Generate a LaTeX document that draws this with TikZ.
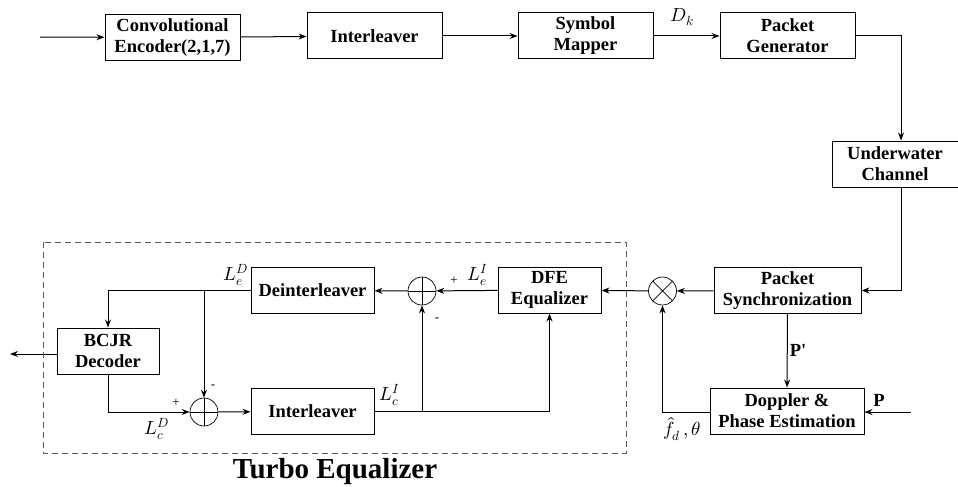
\documentclass[tikz,border=0pt]{standalone}
\usepackage{fontspec}
\usepackage{unicode-math}
\setmainfont{Liberation Serif}
\setmathfont{Latin Modern Math}
\usetikzlibrary{arrows.meta}
\tikzset{
  blk/.style={draw,align=center,inner sep=2pt,minimum height=46pt,font=\fontsize{18.5}{21}\selectfont\bfseries},
  adder/.style={draw,circle,line width=0.7pt,minimum size=28pt,inner sep=0pt,
    path picture={\draw[line width=0.7pt] (path picture bounding box.north) -- (path picture bounding box.south)
      (path picture bounding box.west) -- (path picture bounding box.east);}},
  mixer/.style={draw,circle,line width=0.7pt,minimum size=28pt,inner sep=0pt,
    path picture={\draw[line width=0.7pt] (path picture bounding box.north west) -- (path picture bounding box.south east)
      (path picture bounding box.north east) -- (path picture bounding box.south west);}},
  lbl/.style={font=\fontsize{19}{22}\selectfont},
  sgn/.style={font=\fontsize{13}{15}\selectfont}
}
\begin{document}
\begin{tikzpicture}[>={Stealth[length=8pt,width=6pt]},x=1pt,y=-1pt,line width=1pt]
    \useasboundingbox (0,0) rectangle (958,487);
    % transmitter
    \node[blk,minimum width=135pt] (enc) at (172.5,37.5) {Convolutional\\Encoder(2,1,7)};
    \node[blk,minimum width=135pt] (intl) at (374.5,36) {Interleaver};
    \node[blk,minimum width=135pt] (map) at (585.5,36) {Symbol\\Mapper};
    \node[blk,minimum width=135pt] (pgen) at (787.5,36) {Packet\\Generator};
    \node[blk,minimum width=126pt] (chan) at (895,164) {Underwater\\Channel};
    \coordinate (src) at (40,37);
    \draw[->] (src) -- (enc);
    \draw[->] (enc) -- (intl);
    \draw[->] (intl) -- (map);
    \draw[->] (map) -- (pgen);
    \node[lbl] (dk) at (682,17) {$D_k$};
    \draw[->] (pgen.east) -| ([xshift=6pt]chan.north);
    % receiver
    \node[blk,minimum width=147pt] (psync) at (787.5,290.5) {Packet\\Synchronization};
    \node[blk,minimum width=154pt] (dopp) at (787,411) {Doppler \&\\Phase Estimation};
    \node[mixer] (mult) at (662.5,291) {};
    \draw[->] ([xshift=6pt]chan.south) |- (psync.east);
    \draw[->] (psync) -- (mult);
    \draw[->] (psync) -- (dopp);
    \node[font=\fontsize{18.5}{21}\selectfont\bfseries] (pp) at (798,350) {P\textquotesingle};
    \coordinate (pin) at (911,412);
    \draw[->] (pin) -- (dopp.east |- pin);
    \node[font=\fontsize{18.5}{21}\selectfont\bfseries] (plbl) at (879,400) {P};
    \draw[->] (dopp.west |- pin) -| (mult.south);
    \node[lbl] (fd) at (682,429) {$\widehat{f}_d\,,\theta$};
    % turbo equalizer
    \node[blk,minimum width=103pt] (dfe) at (549.5,290) {DFE\\Equalizer};
    \node[adder] (sum1) at (422,291) {};
    \node[blk,minimum width=123pt] (deint) at (312.5,290.5) {Deinterleaver};
    \node[blk,minimum width=102pt] (bcjr) at (108,351) {BCJR\\Decoder};
    \node[adder] (sum2) at (204,412) {};
    \node[blk,minimum width=123pt] (intl2) at (312.5,411.5) {Interleaver};
    \draw[->] (mult) -- (dfe);
    \draw[->] (dfe) -- (sum1);
    \draw[->] (sum1) -- (deint);
    \draw[->] (deint.west) -| (bcjr.north);
    \draw[->] (sum2 |- deint.west) -- (sum2.north);
    \coordinate (out) at (10,354);
    \draw[->] (bcjr.west |- out) -- (out);
    \draw[->] (bcjr.south) |- (sum2.west);
    \draw[->] (sum2) -- (intl2);
    \draw[->] (intl2.east) -| (dfe.south);
    \draw[->] (sum1 |- intl2.east) -- (sum1.south);
    \node[lbl] (lei) at (478,275) {$L_e^I$};
    \node[lbl] (led) at (236,275) {$L_e^D$};
    \node[lbl] (lci) at (390,395) {$L_c^I$};
    \node[lbl] (lcd) at (157,429) {$L_c^D$};
    \node[sgn] (p1) at (454,281) {+};
    \node[sgn] (m1) at (437,320) {-};
    \node[sgn] (p2) at (176,403) {+};
    \node[sgn] (m2) at (213,387) {-};
    \draw[dash pattern=on 6pt off 4pt,line width=0.9pt,gray!70!black] (43,242) rectangle (626,453);
    \node[font=\fontsize{29}{34}\selectfont\bfseries] (turbo) at (335,472) {Turbo Equalizer};
\end{tikzpicture}
\end{document}
